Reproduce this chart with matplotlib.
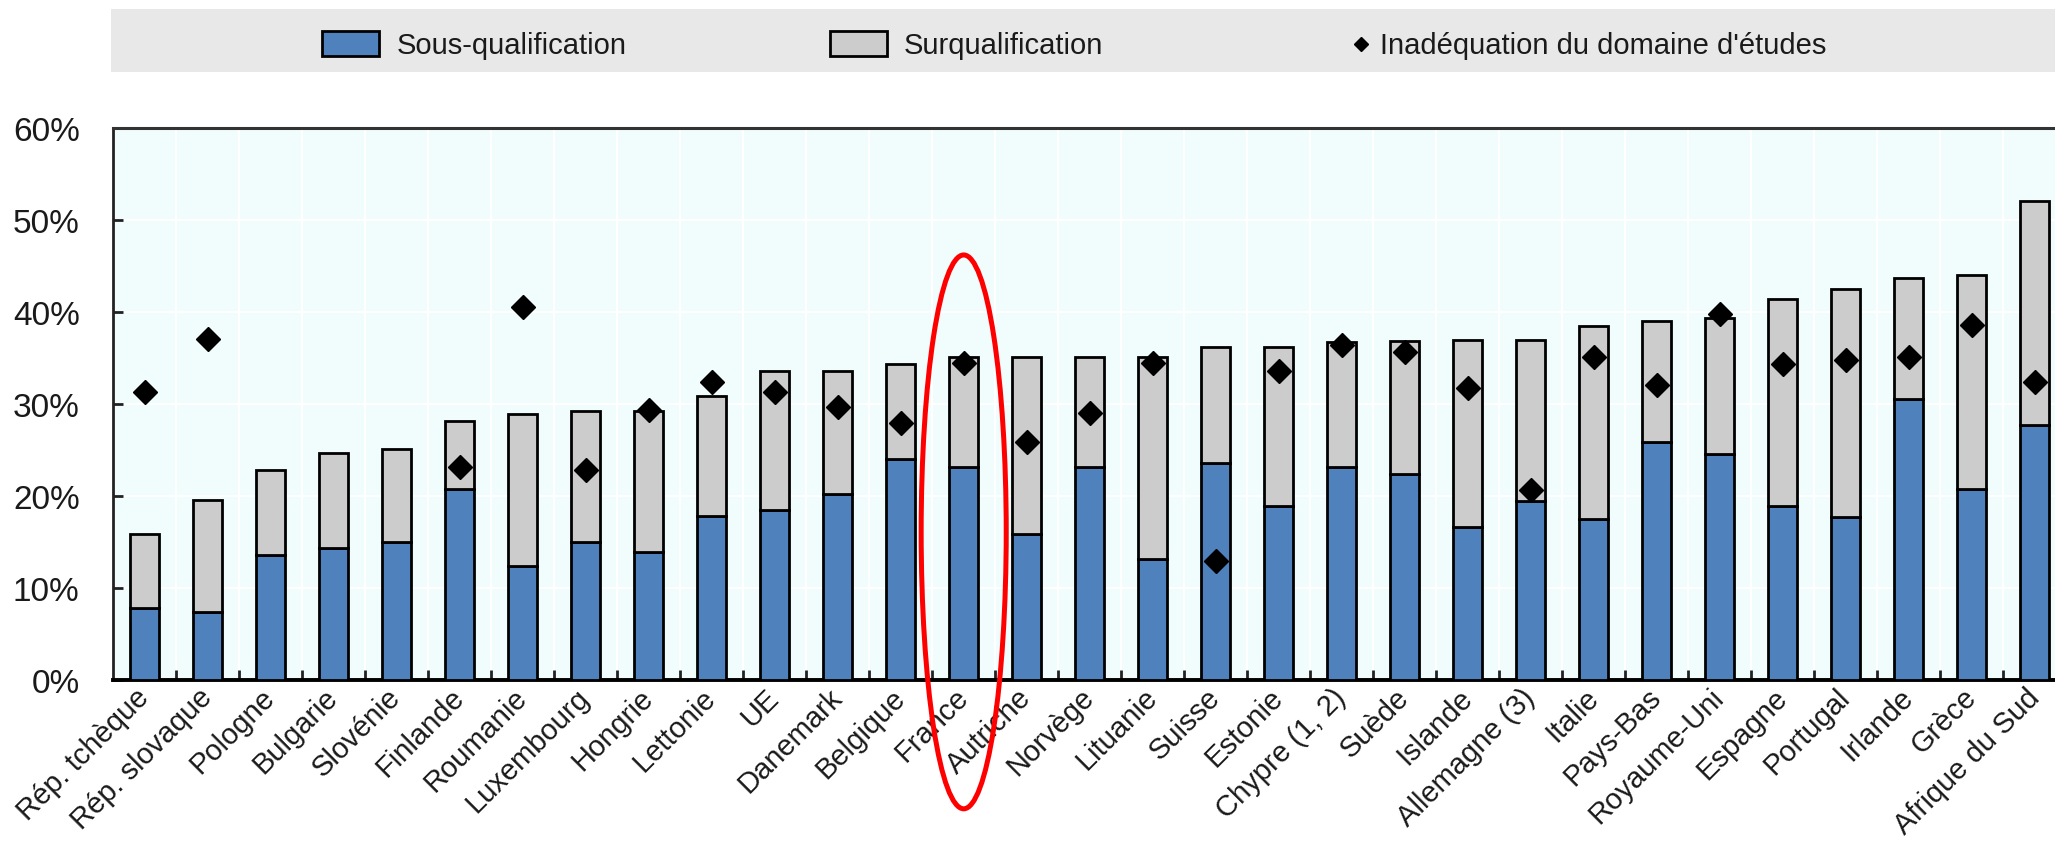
import matplotlib
matplotlib.use("Agg")

import matplotlib.pyplot as plt
import matplotlib.transforms as mtransforms
import numpy as np
from matplotlib import font_manager
from matplotlib.lines import Line2D
from matplotlib.patches import Ellipse, Rectangle
from matplotlib.ticker import FixedLocator, FuncFormatter

countries = [
    "Rép. tchèque", "Rép. slovaque", "Pologne", "Bulgarie", "Slovénie",
    "Finlande", "Roumanie", "Luxembourg", "Hongrie", "Lettonie", "UE",
    "Danemark", "Belgique", "France", "Autriche", "Norvège", "Lituanie",
    "Suisse", "Estonie", "Chypre (1, 2)", "Suède", "Islande",
    "Allemagne (3)", "Italie", "Pays-Bas", "Royaume-Uni", "Espagne",
    "Portugal", "Irlande", "Grèce", "Afrique du Sud",
]
# Sous-qualification (%)
sous = [7.8, 7.4, 13.6, 14.3, 15.0, 20.8, 12.4, 15.0, 13.9, 17.8, 18.5,
        20.2, 24.0, 23.1, 15.9, 23.1, 13.2, 23.6, 18.9, 23.1, 22.4, 16.6,
        19.5, 17.5, 25.9, 24.6, 18.9, 17.7, 30.5, 20.8, 27.7]
# Surqualification (%)
sur = [8.1, 12.2, 9.2, 10.4, 10.1, 7.4, 16.5, 14.2, 15.3, 13.1, 15.1,
       13.4, 10.4, 12.0, 19.2, 12.0, 21.9, 12.6, 17.3, 13.6, 14.4, 20.4,
       17.5, 21.0, 13.1, 14.8, 22.5, 24.8, 13.2, 23.2, 24.4]
# Inadéquation du domaine d'études (%)
inad = [31.3, 37.1, np.nan, np.nan, np.nan, 23.2, 40.5, 22.8, 29.4, 32.4,
        31.3, 29.7, 27.9, 34.5, 25.9, 29.0, 34.5, 12.9, 33.6, 36.4, 35.7,
        31.7, 20.6, 35.1, 32.1, 39.8, 34.4, 34.8, 35.1, 38.6, 32.4]
yticks = [0, 10, 20, 30, 40, 50, 60]
highlight = "France"

BLUE = "#4F81BD"
GREY = "#CCCCCC"
TEXT = "#1a1a1a"

# narrow font if the system has one, else plain Liberation Sans
installed = {f.name for f in font_manager.fontManager.ttflist}
narrow_ok = "Liberation Sans Narrow" in installed
FONT = ["Liberation Sans Narrow" if narrow_ok else "Liberation Sans", "DejaVu Sans"]
legend_size = 24 if narrow_ok else 21

W, H = 2055, 845
fig = plt.figure(figsize=(W / 100, H / 100), dpi=100)
ax = fig.add_axes([113 / W, 1 - 681 / H, 1944 / W, (681 - 129) / H])
ax.set_facecolor("#F1FCFD")

x = np.arange(len(countries))
ax.bar(x, sous, width=0.46, color=BLUE, edgecolor="black", linewidth=2, zorder=3)
ax.bar(x, sur, bottom=sous, width=0.46, color=GREY, edgecolor="black",
       linewidth=2, zorder=3)
ax.plot(x, inad, ls="none", marker="D", ms=12, color="black", zorder=4)

ax.set_xlim(-0.5, 30.35)
ax.set_ylim(0, 60)
ax.set_yticks(yticks)
ax.yaxis.set_major_formatter(FuncFormatter(lambda v, _: f"{v:.0f}%"))
ax.set_xticks(x)
ax.set_xticklabels(countries, rotation=45, ha="right", va="center",
                   rotation_mode="anchor", family=FONT, fontsize=21, color=TEXT)
ax.xaxis.set_minor_locator(FixedLocator(x[:-1] + 0.5))
shift = mtransforms.ScaledTranslation(8 / 100, 0, fig.dpi_scale_trans)
for lab in ax.get_xticklabels():
    lab.set_transform(lab.get_transform() + shift)
for lab in ax.get_yticklabels():
    lab.set_family(FONT)
    lab.set_fontsize(24)
    lab.set_color(TEXT)

ax.tick_params(axis="x", which="major", length=0, pad=9)
ax.tick_params(axis="x", which="minor", direction="in", length=7, width=2,
               color="#222222")
ax.tick_params(axis="y", direction="in", length=7, width=2, pad=24,
               color="#222222")

ax.set_axisbelow(True)
ax.grid(which="minor", axis="x", color="white", linewidth=1.5)
ax.grid(which="major", axis="y", color="white", linewidth=1.5)

ax.spines["right"].set_visible(False)
ax.spines["top"].set_color("#333333")
ax.spines["top"].set_linewidth(2.2)
ax.spines["left"].set_color("#222222")
ax.spines["left"].set_linewidth(2)
ax.spines["bottom"].set_color("black")
ax.spines["bottom"].set_linewidth(2.8)

# red ellipse around France
fx = countries.index(highlight)
ax.add_patch(Ellipse((fx, 16.1), 1.35, 60.2, fill=False, edgecolor="#FF0000",
                     linewidth=3.6, clip_on=False, zorder=6))

# legend band on top
fig.add_artist(Rectangle((111 / W, 1 - 73 / H), 1, 63 / H,
                         transform=fig.transFigure, facecolor="#E8E8E8",
                         edgecolor="none"))
base_y = 1 - 54 / H
fig.add_artist(Rectangle((322 / W, 1 - 57 / H), 57 / W, 25 / H,
                         transform=fig.transFigure, facecolor=BLUE,
                         edgecolor="black", linewidth=2))
fig.text(397 / W, base_y, "Sous-qualification", family=FONT,
         fontsize=legend_size, va="baseline", color=TEXT)
fig.add_artist(Rectangle((830 / W, 1 - 57 / H), 57 / W, 25 / H,
                         transform=fig.transFigure, facecolor=GREY,
                         edgecolor="black", linewidth=2))
fig.text(904 / W, base_y, "Surqualification", family=FONT,
         fontsize=legend_size, va="baseline", color=TEXT)
fig.add_artist(Line2D([1361 / W], [1 - 45 / H], transform=fig.transFigure,
                      marker="D", ms=7.5, color="black", ls="none"))
fig.text(1380 / W, base_y, "Inadéquation du domaine d'études", family=FONT,
         fontsize=legend_size, va="baseline", color=TEXT)

fig.savefig("out.png", dpi=100)
